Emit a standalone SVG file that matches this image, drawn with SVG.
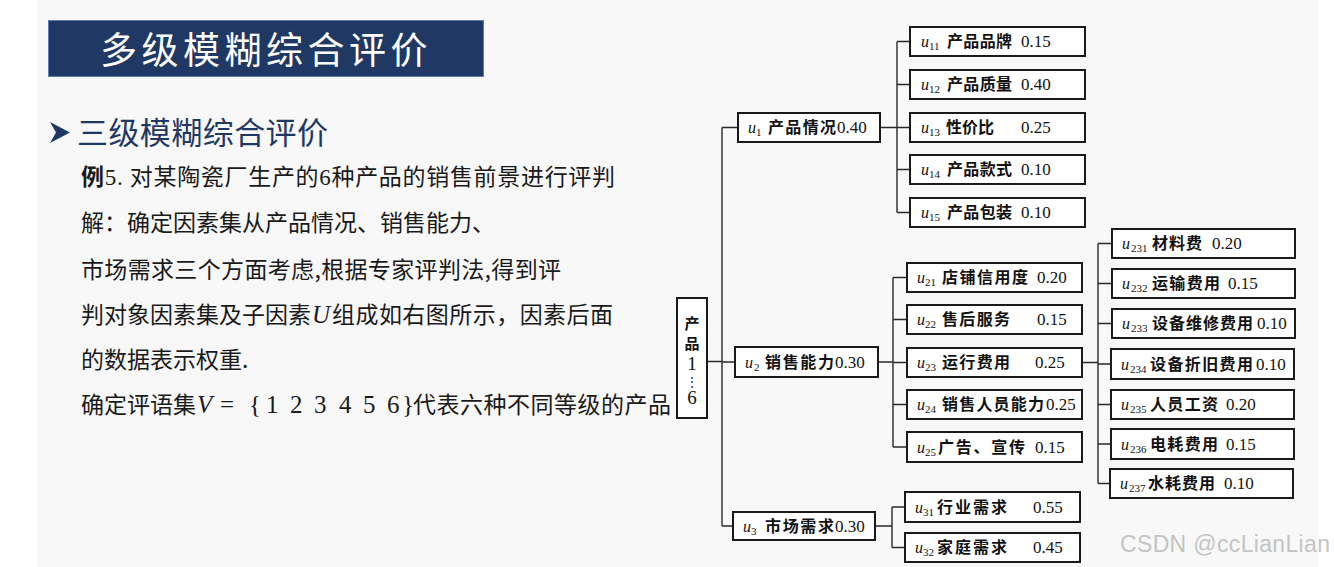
<svg xmlns="http://www.w3.org/2000/svg" width="1334" height="567" viewBox="0 0 1334 567">
<style>
.box{fill:#fff;stroke:#1a1a1a;stroke-width:2}
.ln{stroke:#2a2a2a;stroke-width:1.4;fill:none}
.u{font-family:"Liberation Serif",serif;font-style:italic;font-size:16px;fill:#111}
.s{font-family:"Liberation Serif",serif;font-size:11px;fill:#111}
.c{font-family:"Noto Sans CJK SC",sans-serif;font-weight:bold;font-size:16px;fill:#111}
.n{font-family:"Liberation Serif",serif;font-size:17px;fill:#111}
.body{font-family:"Noto Sans CJK SC",sans-serif;font-size:23px;fill:#1a1a1a}
.math{font-family:"Liberation Serif",serif;font-size:25px;fill:#1a1a1a}
</style>
<rect x="0" y="0" width="1334" height="567" fill="#ffffff"/>
<rect x="37" y="0" width="1281" height="567" fill="#f8f8f8"/>
<g id="title">
<rect x="48.5" y="20.5" width="435" height="56" fill="#203864" stroke="#5b7db3" stroke-width="1"/>
<text x="100" y="64" font-family="Noto Sans CJK SC,sans-serif" font-size="37" fill="#ffffff" letter-spacing="4.5">多级模糊综合评价</text>
</g>
<g id="heading">
<path d="M50,122 L70,132.5 L50,143 L56,132.5 Z" fill="#1f3864"/>
<text x="77" y="144" font-family="Noto Sans CJK SC,sans-serif" font-size="31" fill="#1f3864" textLength="251">三级模糊综合评价</text>
</g>
<g id="body">
<text class="body" x="81" y="185" textLength="534"><tspan font-weight="bold">例</tspan><tspan font-family="Liberation Serif,serif">5. </tspan>对某陶瓷厂生产的<tspan font-family="Liberation Serif,serif">6</tspan>种产品的销售前景进行评判</text>
<text class="body" x="81" y="231">解：确定因素集从产品情况、销售能力、</text>
<text class="body" x="81" y="278" textLength="480">市场需求三个方面考虑,根据专家评判法,得到评</text>
<text class="body" x="81" y="323">判对象因素集及子因素</text>
<text class="math" x="312" y="323" font-style="italic">U</text>
<text class="body" x="332" y="323" textLength="281">组成如右图所示，因素后面</text>
<text class="body" x="81" y="368">的数据表示权重.</text>
<text class="body" x="81" y="413">确定评语集</text>
<text class="math" x="197" y="413" font-style="italic">V</text>
<text class="math" x="220" y="413">=</text>
<text class="math" x="249" y="413">{</text>
<text class="math" x="266" y="413">1</text>
<text class="math" x="290" y="413">2</text>
<text class="math" x="314" y="413">3</text>
<text class="math" x="339" y="413">4</text>
<text class="math" x="363" y="413">5</text>
<text class="math" x="387" y="413">6</text>
<text class="math" x="402" y="413">}</text>
<text class="body" x="413" y="413" textLength="258">代表六种不同等级的产品</text>
</g>
<g id="connectors">
<path class="ln" d="M707,361.5H722M722,127.5V526M722,127.5H738M722,362H735M722,526H733"/>
<path class="ln" d="M880,127.5H897M897,41.5V212.5M897,41.5H910M897,84.5H910M897,127.5H910M897,169.5H910M897,212.5H910"/>
<path class="ln" d="M878,362H893M893,277.5V447M893,277.5H907M893,319.5H907M893,362.5H907M893,404.5H907M893,447H907"/>
<path class="ln" d="M875,526H892M892,507V547.5M892,507H905M892,547.5H905"/>
<path class="ln" d="M1082,362.5H1098M1098,243.5V483.5M1098,243.5H1112M1098,283.5H1112M1098,323.5H1112M1098,364H1111M1098,404.5H1111M1098,444H1111M1098,483.5H1110"/>
</g>
<g id="root">
<rect class="box" x="677" y="298" width="30" height="120"/>
<text text-anchor="middle" fill="#111"><tspan x="692" y="329" font-family="Noto Sans CJK SC,sans-serif" font-weight="bold" font-size="15">产</tspan><tspan x="692" y="349" font-family="Noto Sans CJK SC,sans-serif" font-weight="bold" font-size="15">品</tspan><tspan x="692" y="370" font-family="Liberation Serif,serif" font-size="19">1</tspan><tspan x="692" y="386" font-family="DejaVu Serif,serif" font-size="12">⋮</tspan><tspan x="692" y="404" font-family="Liberation Serif,serif" font-size="19">6</tspan></text>
</g>
<g id="u1"><rect class="box" x="738" y="113" width="142" height="29"/><text class="u" x="748" y="133">u</text><text class="s" x="756" y="136">1</text><text class="c" x="768" y="133" textLength="68">产品情况</text><text class="n" x="837" y="133">0.40</text></g>
<g id="u2"><rect class="box" x="735" y="347" width="143" height="30"/><text class="u" x="745" y="368">u</text><text class="s" x="754" y="371">2</text><text class="c" x="765" y="368" textLength="69">销售能力</text><text class="n" x="835" y="368">0.30</text></g>
<g id="u3"><rect class="box" x="733" y="512" width="142" height="28"/><text class="u" x="743" y="532">u</text><text class="s" x="751" y="535">3</text><text class="c" x="765" y="532" textLength="69">市场需求</text><text class="n" x="835" y="532">0.30</text></g>
<g id="u11"><rect class="box" x="910" y="27" width="175" height="29"/><text class="u" x="921" y="47">u</text><text class="s" x="929" y="50">11</text><text class="c" x="947" y="47" textLength="65">产品品牌</text><text class="n" x="1021" y="47">0.15</text></g>
<g id="u12"><rect class="box" x="910" y="70" width="175" height="29"/><text class="u" x="921" y="90">u</text><text class="s" x="929" y="93">12</text><text class="c" x="947" y="90" textLength="65">产品质量</text><text class="n" x="1021" y="90">0.40</text></g>
<g id="u13"><rect class="box" x="910" y="113" width="175" height="29"/><text class="u" x="921" y="133">u</text><text class="s" x="929" y="136">13</text><text class="c" x="946" y="133" textLength="48">性价比</text><text class="n" x="1021" y="133">0.25</text></g>
<g id="u14"><rect class="box" x="910" y="155" width="175" height="29"/><text class="u" x="921" y="175">u</text><text class="s" x="929" y="178">14</text><text class="c" x="947" y="175" textLength="65">产品款式</text><text class="n" x="1021" y="175">0.10</text></g>
<g id="u15"><rect class="box" x="910" y="198" width="175" height="29"/><text class="u" x="921" y="218">u</text><text class="s" x="929" y="221">15</text><text class="c" x="947" y="218" textLength="65">产品包装</text><text class="n" x="1021" y="218">0.10</text></g>
<g id="u21"><rect class="box" x="907" y="263" width="175" height="29"/><text class="u" x="917" y="283">u</text><text class="s" x="925" y="286">21</text><text class="c" x="942" y="283" textLength="86">店铺信用度</text><text class="n" x="1037" y="283">0.20</text></g>
<g id="u22"><rect class="box" x="907" y="305" width="175" height="29"/><text class="u" x="917" y="325">u</text><text class="s" x="925" y="328">22</text><text class="c" x="942" y="325" textLength="68">售后服务</text><text class="n" x="1037" y="325">0.15</text></g>
<g id="u23"><rect class="box" x="907" y="348" width="175" height="29"/><text class="u" x="917" y="368">u</text><text class="s" x="925" y="371">23</text><text class="c" x="942" y="368" textLength="68">运行费用</text><text class="n" x="1035" y="368">0.25</text></g>
<g id="u24"><rect class="box" x="907" y="390" width="175" height="29"/><text class="u" x="917" y="410">u</text><text class="s" x="925" y="413">24</text><text class="c" x="942" y="410" textLength="102">销售人员能力</text><text class="n" x="1046" y="410">0.25</text></g>
<g id="u25"><rect class="box" x="907" y="432" width="175" height="30"/><text class="u" x="917" y="453">u</text><text class="s" x="925" y="456">25</text><text class="c" x="938" y="453" textLength="87">广告、宣传</text><text class="n" x="1035" y="453">0.15</text></g>
<g id="u31"><rect class="box" x="905" y="492" width="175" height="30"/><text class="u" x="915" y="513">u</text><text class="s" x="923" y="516">31</text><text class="c" x="937" y="513" textLength="70">行业需求</text><text class="n" x="1033" y="513">0.55</text></g>
<g id="u32"><rect class="box" x="905" y="533" width="175" height="29"/><text class="u" x="915" y="553">u</text><text class="s" x="923" y="556">32</text><text class="c" x="937" y="553" textLength="70">家庭需求</text><text class="n" x="1033" y="553">0.45</text></g>
<g id="u231"><rect class="box" x="1112" y="229" width="183" height="29"/><text class="u" x="1122" y="249">u</text><text class="s" x="1131" y="252">231</text><text class="c" x="1152" y="249" textLength="50">材料费</text><text class="n" x="1212" y="249">0.20</text></g>
<g id="u232"><rect class="box" x="1112" y="269" width="183" height="29"/><text class="u" x="1122" y="289">u</text><text class="s" x="1131" y="292">232</text><text class="c" x="1152" y="289" textLength="68">运输费用</text><text class="n" x="1228" y="289">0.15</text></g>
<g id="u233"><rect class="box" x="1112" y="309" width="183" height="29"/><text class="u" x="1122" y="329">u</text><text class="s" x="1131" y="332">233</text><text class="c" x="1152" y="329" textLength="101">设备维修费用</text><text class="n" x="1257" y="329">0.10</text></g>
<g id="u234"><rect class="box" x="1111" y="349" width="183" height="30"/><text class="u" x="1121" y="370">u</text><text class="s" x="1130" y="373">234</text><text class="c" x="1150" y="370" textLength="103">设备折旧费用</text><text class="n" x="1256" y="370">0.10</text></g>
<g id="u235"><rect class="box" x="1111" y="390" width="183" height="29"/><text class="u" x="1121" y="410">u</text><text class="s" x="1130" y="413">235</text><text class="c" x="1150" y="410" textLength="68">人员工资</text><text class="n" x="1226" y="410">0.20</text></g>
<g id="u236"><rect class="box" x="1111" y="429" width="183" height="30"/><text class="u" x="1121" y="450">u</text><text class="s" x="1130" y="453">236</text><text class="c" x="1150" y="450" textLength="68">电耗费用</text><text class="n" x="1226" y="450">0.15</text></g>
<g id="u237"><rect class="box" x="1110" y="469" width="183" height="29"/><text class="u" x="1120" y="489">u</text><text class="s" x="1129" y="492">237</text><text class="c" x="1148" y="489" textLength="67">水耗费用</text><text class="n" x="1224" y="489">0.10</text></g>
<text x="1120" y="552" font-family="Liberation Sans,sans-serif" font-size="23" fill="#c4c4c4" textLength="210">CSDN @ccLianLian</text>
</svg>
